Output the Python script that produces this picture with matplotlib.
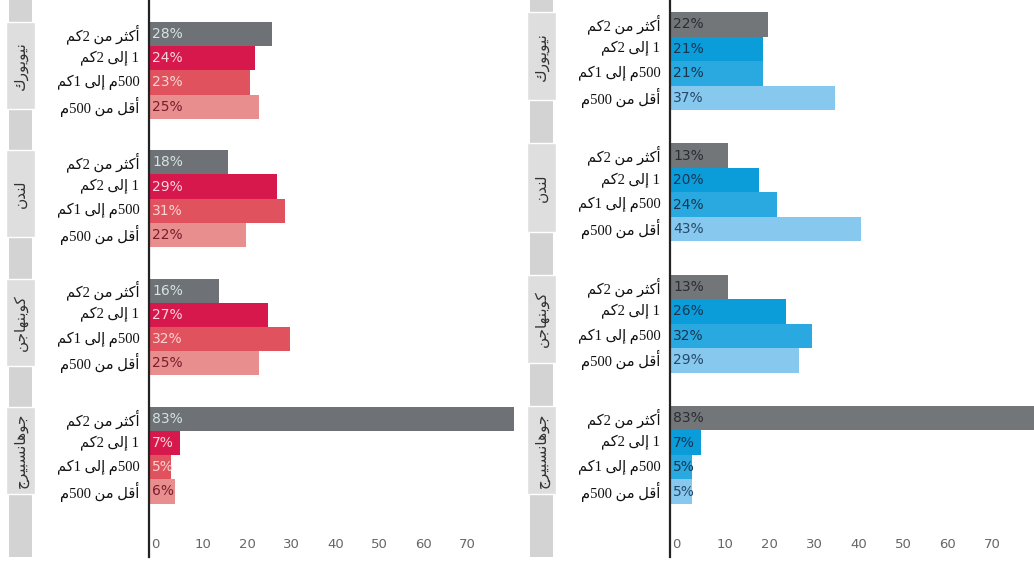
import matplotlib
matplotlib.use('Agg')
import matplotlib.pyplot as plt
from matplotlib import transforms
from matplotlib.patches import Rectangle

# share of trips by distance band, per city (%)
cities = ['نيويورك', 'لندن', 'كوبنهاجن', 'جوهانسبيرج']
bands = ['أكثر من 2كم', '1 إلى 2كم', '500م إلى 1كم', 'أقل من 500م']
red_values = [[28, 24, 23, 25],
              [18, 29, 31, 22],
              [16, 27, 32, 25],
              [83, 7, 5, 6]]
blue_values = [[22, 21, 21, 37],
               [13, 20, 24, 43],
               [13, 26, 32, 29],
               [83, 7, 5, 5]]
xticks = [0, 10, 20, 30, 40, 50, 60, 70]

red_colors = ['#6e7175', '#d6184c', '#e0525e', '#e98e8e']
red_text = ['#d4e4e0', '#f9d6de', '#fad4d4', '#7a1c2c']
blue_colors = ['#737679', '#0b9cda', '#2aa9e1', '#86c8ee']
blue_text = ['#2a2d31', '#183650', '#183650', '#27496a']

# --- minimal arabic shaping + right-to-left ordering (no raqm in matplotlib)
FORMS = {
    'ا': ('\uFE8D', '\uFE8E', None, None),
    'أ': ('\uFE83', '\uFE84', None, None),
    'إ': ('\uFE87', '\uFE88', None, None),
    'ب': ('\uFE8F', '\uFE90', '\uFE91', '\uFE92'),
    'ث': ('\uFE99', '\uFE9A', '\uFE9B', '\uFE9C'),
    'ج': ('\uFE9D', '\uFE9E', '\uFE9F', '\uFEA0'),
    'د': ('\uFEA9', '\uFEAA', None, None),
    'ر': ('\uFEAD', '\uFEAE', None, None),
    'س': ('\uFEB1', '\uFEB2', '\uFEB3', '\uFEB4'),
    'ق': ('\uFED5', '\uFED6', '\uFED7', '\uFED8'),
    'ك': ('\uFED9', '\uFEDA', '\uFEDB', '\uFEDC'),
    'ل': ('\uFEDD', '\uFEDE', '\uFEDF', '\uFEE0'),
    'م': ('\uFEE1', '\uFEE2', '\uFEE3', '\uFEE4'),
    'ن': ('\uFEE5', '\uFEE6', '\uFEE7', '\uFEE8'),
    'ه': ('\uFEE9', '\uFEEA', '\uFEEB', '\uFEEC'),
    'و': ('\uFEED', '\uFEEE', None, None),
    'ى': ('\uFEEF', '\uFEF0', None, None),
    'ي': ('\uFEF1', '\uFEF2', '\uFEF3', '\uFEF4'),
}


def shape(s):
    out = []
    for i, c in enumerate(s):
        if c not in FORMS:
            out.append(c)
            continue
        prev = s[i - 1] if i > 0 else ''
        nxt = s[i + 1] if i + 1 < len(s) else ''
        jp = prev in FORMS and FORMS[prev][2] is not None
        jn = FORMS[c][2] is not None and nxt in FORMS
        iso, fin, ini, med = FORMS[c]
        if jp and jn:
            out.append(med)
        elif jp:
            out.append(fin)
        elif jn:
            out.append(ini)
        else:
            out.append(iso)
    # reverse for display, keeping digit runs left-to-right
    tokens = []
    for c in out:
        if c.isdigit() and tokens and tokens[-1].isdigit():
            tokens[-1] += c
        else:
            tokens.append(c)
    return ''.join(reversed(tokens))


arabic_font = ['Liberation Serif', 'DejaVu Sans']
num_font = ['Liberation Sans Narrow', 'DejaVu Sans']

W, H = 1034, 561
AX_H = 557
fig = plt.figure(figsize=(W / 100, H / 100), dpi=100)


def panel(left_px, width_px, unit_px, bar_px, top_px, pitch, values, colors, tcolors):
    ax = fig.add_axes([left_px / W, (H - AX_H) / H, width_px / W, AX_H / H])
    ax.set_xlim(0, width_px / unit_px)
    ytop = -0.5 - top_px / bar_px
    ax.set_ylim(ytop + AX_H / bar_px, ytop)

    centers = []
    labels = []
    label_tf = transforms.offset_copy(ax.transData, fig=fig, x=3, y=0, units='dots')
    for g, row in enumerate(values):
        for k, v in enumerate(row):
            y = g * pitch + k
            ax.barh(y, v, height=1.0, color=colors[k], linewidth=0)
            ax.text(0, y, f'{v}%', transform=label_tf,
                    ha='left', va='center', fontsize=10, color=tcolors[k],
                    family=num_font)
            centers.append(y)
            labels.append(shape(bands[k]))

    ax.set_yticks(centers)
    ax.set_yticklabels(labels, family=arabic_font, fontsize=10.5, color='#111111')
    for lab in ax.get_yticklabels():
        lab.set_va('center')
    ax.tick_params(axis='y', length=0, pad=7)
    ax.set_xticks([])

    tick_tf = transforms.offset_copy(ax.get_xaxis_transform(), fig=fig, x=2, y=0, units='dots')
    for t in xticks:
        ax.text(t, 0.022, str(t), transform=tick_tf,
                ha='left', va='center', fontsize=9.5, color='#666666', family=num_font)

    for side in ['top', 'right', 'bottom']:
        ax.spines[side].set_visible(False)
    ax.spines['left'].set_color('#222222')
    ax.spines['left'].set_linewidth(1.6)

    # grey strip with city boxes on the far left
    fx = lambda px: px / width_px
    ax.add_patch(Rectangle((fx(-140), 0), fx(23), 1, transform=ax.transAxes,
                           facecolor='#d3d3d3', edgecolor='none', clip_on=False))
    blend = transforms.blended_transform_factory(ax.transAxes, ax.transData)
    for g, city in enumerate(cities):
        mid = g * pitch + 1.5 - 0.2
        ax.add_patch(Rectangle((fx(-143), mid - 1.8), fx(29), 3.6, transform=blend,
                               facecolor='#dedede', edgecolor='white', linewidth=1,
                               clip_on=False))
        ax.text(fx(-128), mid, shape(city), transform=blend, rotation=90,
                ha='center', va='center', fontsize=11, color='#333333',
                family=arabic_font)
    return ax


panel(149, 365, 4.4, 24.2, 22, 5.3, red_values, red_colors, red_text)
panel(670, 364, 4.45, 24.5, 12, 5.36, blue_values, blue_colors, blue_text)

fig.savefig('out.png', dpi=100, facecolor='white')
